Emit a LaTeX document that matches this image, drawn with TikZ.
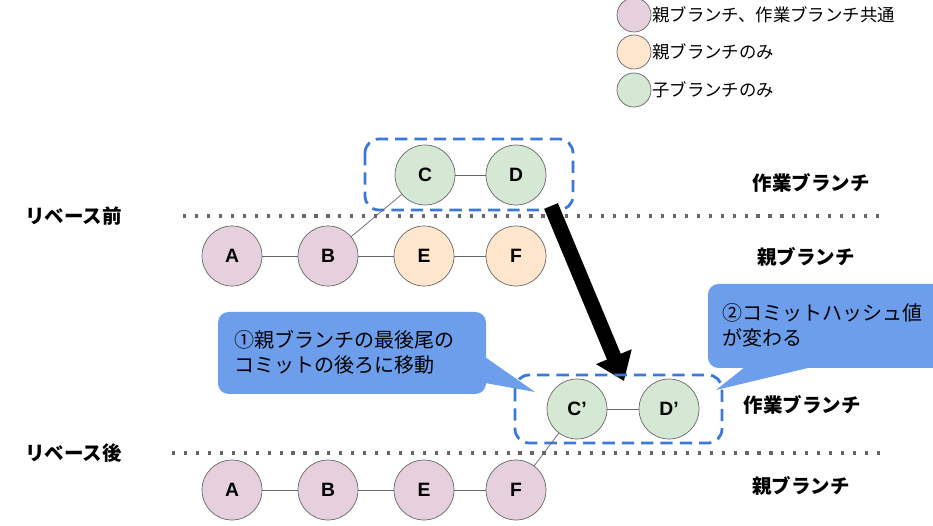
\documentclass[tikz,border=0pt]{standalone}
\usepackage{fontspec}
\setmainfont{Liberation Sans}
\newfontfamily\jp{Noto Sans CJK JP}
\usetikzlibrary{arrows.meta,positioning}
\definecolor{common}{HTML}{E6D0DE}
\definecolor{parentonly}{HTML}{FFE6CC}
\definecolor{childonly}{HTML}{D5E8D4}
\definecolor{edgegray}{HTML}{666666}
\definecolor{boxblue}{HTML}{3C78D8}
\definecolor{calloutblue}{HTML}{6D9EEB}
\tikzset{
  commit/.style={circle, draw=edgegray, minimum size=1.2cm, inner sep=0pt,
    font=\bfseries\fontsize{11}{13}\selectfont},
  legenddot/.style={circle, draw=edgegray, minimum size=0.68cm, inner sep=0pt},
  legendtext/.style={anchor=west, inner sep=0pt, font=\jp\fontsize{9.9}{11}\selectfont},
  branchname/.style={inner sep=0pt, font=\jp\bfseries\fontsize{11.1}{13}\selectfont},
  history/.style={draw=edgegray, line width=0.4pt},
  timeline/.style={draw=edgegray, line width=1.8pt, dash pattern=on 1.8pt off 5pt},
  workbox/.style={draw=boxblue, line width=1.6pt, dash pattern=on 7pt off 4pt, rounded corners=8pt},
  callout/.style={fill=calloutblue, rounded corners=6pt},
  callouttext/.style={anchor=west, inner sep=0pt, font=\jp\fontsize{11.4}{13}\selectfont}
}
\begin{document}
\begin{tikzpicture}[x=0.02cm, y=-0.02cm]
\useasboundingbox (0,0) rectangle (933,526);

% legend
\node[legenddot, fill=common] (lg1) at (634,15) {};
\node[legenddot, fill=parentonly] (lg2) at (634,52) {};
\node[legenddot, fill=childonly] (lg3) at (634,90) {};
\node[legendtext] (lt1) at (652,15) {親ブランチ、作業ブランチ共通};
\node[legendtext] (lt2) at (652,52) {親ブランチのみ};
\node[legendtext] (lt3) at (652,90) {子ブランチのみ};

% before rebase
\draw[workbox] (365,139) rectangle (573,210);
\node[commit, fill=childonly] (c) at (425,175) {C};
\node[commit, fill=childonly] (d) at (516,175) {D};
\draw[timeline] (183,216) -- (880,216);
\node[commit, fill=common] (a) at (232,256) {A};
\node[commit, fill=common] (b) at (328,256) {B};
\node[commit, fill=parentonly] (e) at (424,256) {E};
\node[commit, fill=parentonly] (f) at (516,256) {F};
\draw[history] (c) -- (d);
\draw[history] (a) -- (b) -- (e) -- (f);
\draw[history] (c) -- (b);
\node[branchname, anchor=west] (before) at (25,216) {リベース前};
\node[branchname] (work1) at (811,183) {作業ブランチ};
\node[branchname] (parent1) at (806,257) {親ブランチ};

% move
\coordinate (from) at (551,206);
\coordinate (to) at (624,381);
\draw[line width=8.5pt, -{Triangle[width=21pt, length=15pt]}] (from) -- (to);

% after rebase
\draw[workbox] (515,375) rectangle (722,443);
\node[commit, fill=childonly] (c2) at (577,409) {C’};
\node[commit, fill=childonly] (d2) at (669,409) {D’};
\draw[timeline] (172,453) -- (880,453);
\node[commit, fill=common] (a2) at (232,490) {A};
\node[commit, fill=common] (b2) at (328,490) {B};
\node[commit, fill=common] (e2) at (424,490) {E};
\node[commit, fill=common] (f2) at (516,490) {F};
\draw[history] (c2) -- (d2);
\draw[history] (a2) -- (b2) -- (e2) -- (f2);
\draw[history] (c2) -- (f2);
\node[branchname, anchor=west] (after) at (25,453) {リベース後};
\node[branchname] (work2) at (802,405) {作業ブランチ};
\node[branchname] (parent2) at (801,486) {親ブランチ};

% callouts
\coordinate (tip1) at (535,392);
\coordinate (tip2) at (716,390);
\fill[callout] (218,312) rectangle (486,394);
\fill[calloutblue] (485,357) -- (tip1) -- (485,383) -- cycle;
\node[callouttext] (note1a) at (234,340) {①親ブランチの最後尾の};
\node[callouttext] (note1b) at (234,365) {コミットの後ろに移動};
\fill[callout] (708,284) rectangle (945,368);
\fill[calloutblue] (745,367) -- (tip2) -- (812,367) -- cycle;
\node[callouttext] (note2a) at (722,313) {②コミットハッシュ値};
\node[callouttext] (note2b) at (722,338) {が変わる};

\end{tikzpicture}
\end{document}
